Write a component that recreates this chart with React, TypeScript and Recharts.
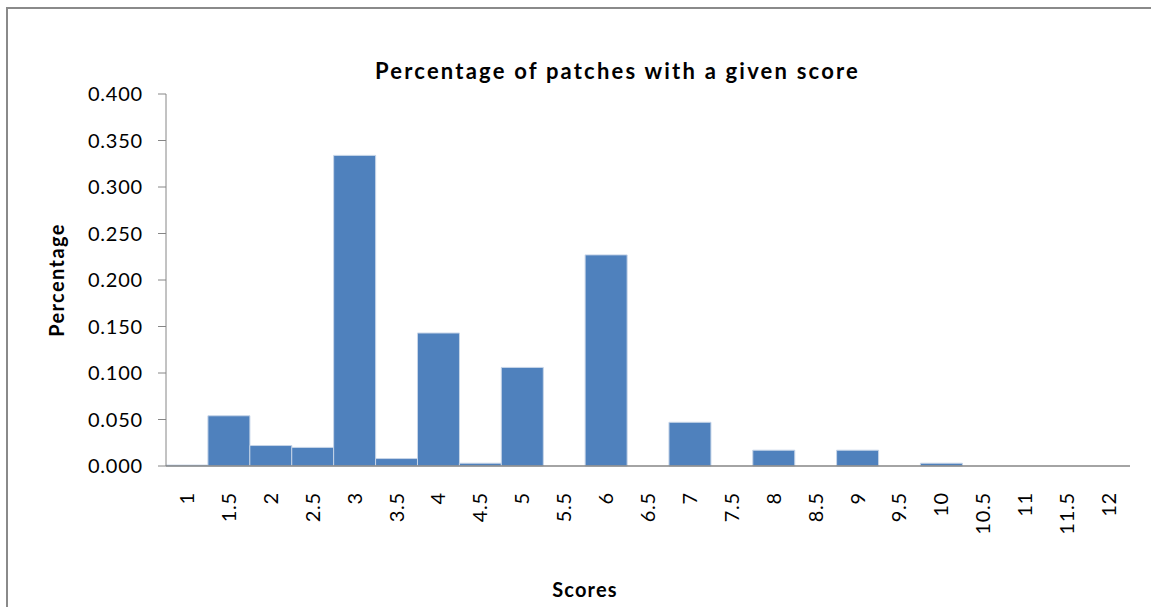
import { BarChart, Bar, XAxis, YAxis } from 'recharts';

// score categories on the x axis
const scores = [
  '1', '1.5', '2', '2.5', '3', '3.5', '4', '4.5', '5', '5.5', '6', '6.5',
  '7', '7.5', '8', '8.5', '9', '9.5', '10', '10.5', '11', '11.5', '12',
];

// share of patches for each score
const percentages = [
  0.001, 0.054, 0.022, 0.020, 0.334, 0.008, 0.143, 0.003, 0.106, 0, 0.227, 0,
  0.047, 0, 0.017, 0, 0.017, 0, 0.003, 0, 0, 0, 0,
];

const yTicks = [0, 0.05, 0.1, 0.15, 0.2, 0.25, 0.3, 0.35, 0.4];

const chartData = scores.map((score, i) => ({ score, value: percentages[i] }));

const FONT = 'Lato, "Open Sans", sans-serif';

const ScoreTick = ({ x, payload }: any) => (
  <text
    x={0}
    y={0}
    transform={`translate(${x + 7},492) rotate(-90)`}
    textAnchor="end"
    fontSize={20}
    letterSpacing={0.8}
    fontFamily={FONT}
    fill="#000"
  >
    {payload.value}
  </text>
);

export default function App() {
  return (
    <div
      style={{
        position: 'absolute',
        left: 0,
        top: 0,
        width: 1151,
        height: 607,
        overflow: 'hidden',
        background: '#fff',
      }}
    >
      {/* chart frame, runs off the right and bottom edges */}
      <div
        style={{
          position: 'absolute',
          left: 6,
          top: 7,
          width: 1300,
          height: 800,
          borderLeft: '2px solid #8a8a8a',
          borderTop: '2px solid #8a8a8a',
        }}
      />
      <div
        style={{
          position: 'absolute',
          left: 2,
          top: 57,
          width: 1231,
          textAlign: 'center',
          fontFamily: FONT,
          fontWeight: 'bold',
          fontSize: 22,
          letterSpacing: 2.2,
          color: '#000',
        }}
      >
        Percentage of patches with a given score
      </div>
      <div
        style={{
          position: 'absolute',
          left: 0,
          top: 577,
          width: 1170,
          textAlign: 'center',
          fontFamily: FONT,
          fontWeight: 'bold',
          fontSize: 20,
          letterSpacing: 1.2,
          color: '#000',
        }}
      >
        Scores
      </div>
      <div
        style={{
          position: 'absolute',
          left: 56,
          top: 280,
          transform: 'translate(-50%, -50%) rotate(-90deg)',
          fontFamily: FONT,
          fontWeight: 'bold',
          fontSize: 20,
          letterSpacing: 1.4,
          color: '#000',
          whiteSpace: 'nowrap',
        }}
      >
        Percentage
      </div>
      <div style={{ position: 'absolute', left: 0, top: 0 }}>
        <BarChart
          width={1151}
          height={607}
          data={chartData}
          margin={{ top: 94, right: 21, bottom: 0, left: 0 }}
          barCategoryGap={0}
          barGap={0}
        >
          <XAxis
            dataKey="score"
            height={141}
            tickLine={false}
            axisLine={{ stroke: '#868686', strokeWidth: 1.5 }}
            tick={<ScoreTick />}
            interval={0}
          />
          <YAxis
            width={166}
            domain={[0, 0.4]}
            ticks={yTicks}
            interval={0}
            tickFormatter={(v: number) => v.toFixed(3)}
            tickSize={8}
            tickMargin={15}
            tickLine={{ stroke: '#868686' }}
            axisLine={{ stroke: '#868686' }}
            tick={{ fontSize: 20, letterSpacing: 0.8, fontFamily: FONT, fill: '#000' }}
          />
          <Bar
            dataKey="value"
            fill="#4f81bd"
            stroke="#c7d5e8"
            strokeWidth={1}
            isAnimationActive={false}
          />
        </BarChart>
      </div>
    </div>
  );
}
